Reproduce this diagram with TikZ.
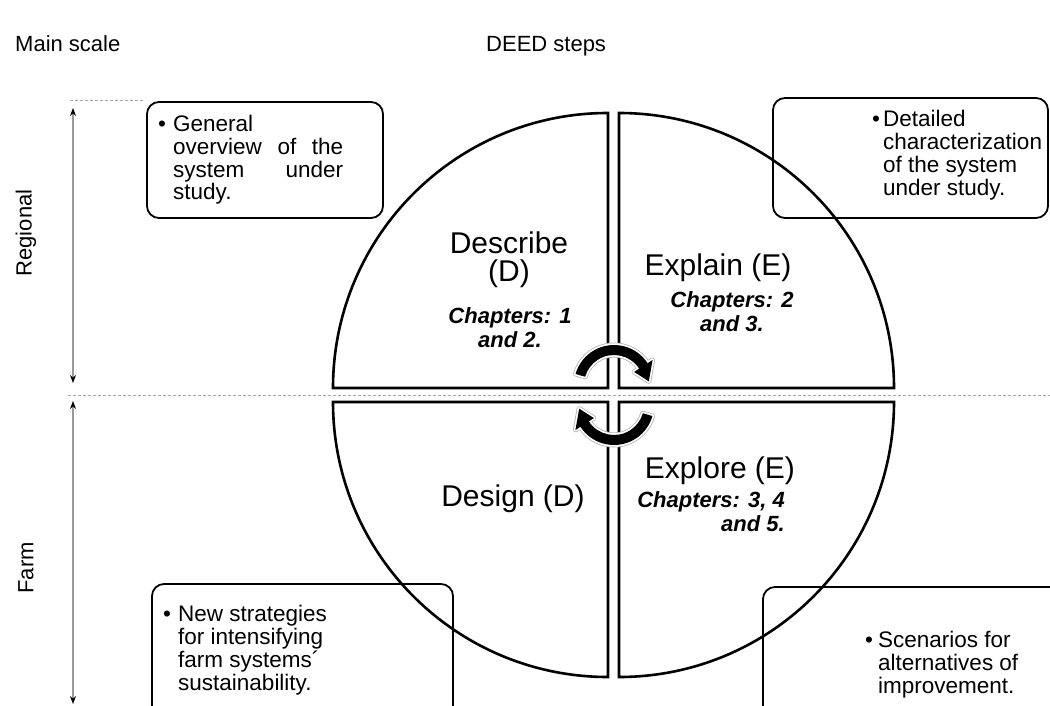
\documentclass[tikz,border=0pt]{standalone}
\usepackage{fontspec}
\setmainfont{Liberation Sans}
\usetikzlibrary{arrows.meta}

% outline of one curved block arrow, drawn around the origin
\newcommand\turnarrow{(196:40) arc[start angle=196,end angle=327,radius=40]
  -- (327:46) -- (354:35) -- (327:24) -- (327:30)
  arc[start angle=327,end angle=196,radius=30] -- cycle}

\begin{document}
\begin{tikzpicture}[x=1pt,y=-1pt,
  quad/.style={draw=black, line width=2.6pt, line join=miter},
  infobox/.style={draw=black, line width=1.8pt, rounded corners=12pt},
  guide/.style={draw=gray!70, line width=0.9pt, dash pattern=on 3pt off 2pt},
  scalearrow/.style={draw=gray!80, line width=1.1pt,
    {Stealth[length=8pt,width=6pt,color=black]}-{Stealth[length=8pt,width=6pt,color=black]}},
  bodytext/.style={font=\fontsize{22.5}{22.7}\selectfont, inner sep=0pt, align=left, anchor=base west},
  headtext/.style={font=\fontsize{22}{24}\selectfont, inner sep=0pt},
  steplabel/.style={font=\fontsize{30}{28}\selectfont, inner sep=0pt, align=center, anchor=base},
  chapters/.style={font=\fontsize{22}{23.5}\selectfont\bfseries\itshape, inner sep=0pt, anchor=base},
]
\useasboundingbox (0,0) rectangle (1050,706);
\clip (0,0) rectangle (1050,706);

% headings
\node[headtext, anchor=base west] (mainscale) at (15,52) {Main scale};
\node[headtext, anchor=base west] (deed) at (486,52) {DEED steps};

% scale guides
\draw[guide] (70,100) -- (145,100);
\draw[guide] (68,395) -- (1050,395);

% scale arrows and labels
\coordinate (regtop) at (73,108);
\coordinate (regbot) at (73,383);
\coordinate (farmtop) at (73,401);
\coordinate (farmbot) at (73,704);
\draw[scalearrow] (regtop) -- (regbot);
\draw[scalearrow] (farmtop) -- (farmbot);
\node[headtext, rotate=90] (regional) at (26,233) {Regional};
\node[headtext, rotate=90] (farm) at (26,568) {Farm};

% the four quarter discs
\draw[quad] (608,388) -- (333,388) arc[start angle=180,end angle=270,radius=275] -- cycle;
\draw[quad] (619,388) -- (619,113) arc[start angle=270,end angle=360,radius=275] -- cycle;
\draw[quad] (619,402) -- (894,402) arc[start angle=0,end angle=90,radius=275] -- cycle;
\draw[quad] (608,402) -- (608,677) arc[start angle=90,end angle=180,radius=275] -- cycle;

% step labels (anchored at the baseline of their last line)
\node[steplabel] (describe) at (509,281) {Describe\\(D)};
\node[chapters, align=center] (chdescribe) at (510,347) {Chapters: 1\\and 2.};
\node[steplabel] (explain) at (718,275) {Explain (E)};
\node[chapters, align=center] (chexplain) at (732,331) {Chapters: 2\\and 3.};
\node[steplabel] (explore) at (720,478) {Explore (E)};
\node[chapters, align=right, anchor=base east] (chexplore) at (785,531) {Chapters: 3, 4\\and 5.};
\node[steplabel] (design) at (513,506) {Design (D)};

% cycle arrows in the centre
\begin{scope}[shift={(614,385)}]
  \draw[gray!60, line width=5pt, line join=round] \turnarrow;
  \draw[white, line width=3.4pt, line join=round] \turnarrow;
  \fill[black] \turnarrow;
\end{scope}
\begin{scope}[shift={(614,405)}, rotate=180]
  \draw[gray!60, line width=5pt, line join=round] \turnarrow;
  \draw[white, line width=3.4pt, line join=round] \turnarrow;
  \fill[black] \turnarrow;
\end{scope}

% note boxes
\draw[infobox] (147,102) rectangle (383,218);
\node[bodytext] (tlnote) at (158,200) {\makebox[15pt][l]{\textbullet}General\\
  \hspace*{15pt}\makebox[170pt][s]{overview of the}\\
  \hspace*{15pt}\makebox[170pt][s]{system under}\\
  \hspace*{15pt}study.};

\draw[infobox] (773,98) rectangle (1048,218);
\node[bodytext] (trnote) at (872,195) {\makebox[11pt][l]{\textbullet}Detailed\\
  \hspace*{11pt}characterization\\
  \hspace*{11pt}of the system\\
  \hspace*{11pt}under study.};

\draw[infobox] (152,584) rectangle (453,730);
\node[bodytext] (blnote) at (163,690) {\makebox[15pt][l]{\textbullet}New strategies\\
  \hspace*{15pt}for intensifying\\
  \hspace*{15pt}farm systems´\\
  \hspace*{15pt}sustainability.};

\draw[infobox] (763,587) rectangle (1080,730);
\node[bodytext] (brnote) at (865,693) {\makebox[13pt][l]{\textbullet}Scenarios for\\
  \hspace*{13pt}alternatives of\\
  \hspace*{13pt}improvement.};
\end{tikzpicture}
\end{document}
